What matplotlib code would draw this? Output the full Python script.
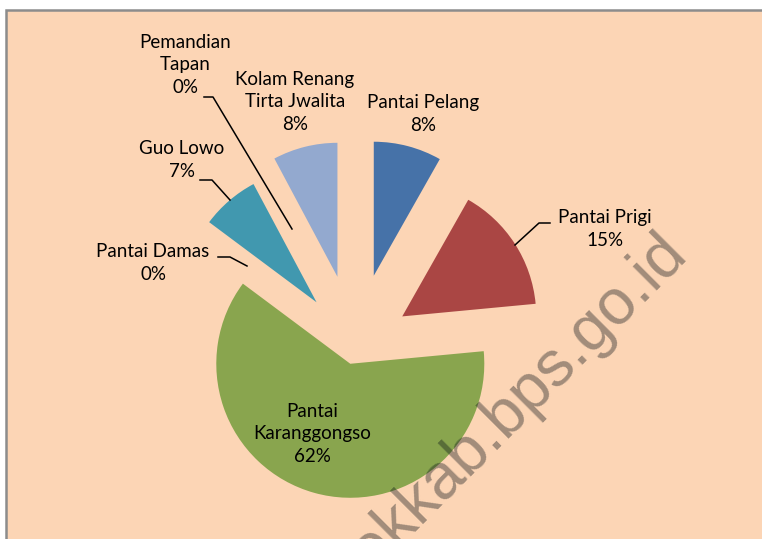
"""
pie chart of visitor share by tourist spot (exploded slices)
"""

import matplotlib
matplotlib.use("Agg")
import matplotlib.pyplot as plt
from matplotlib.patches import Rectangle

# data (percent of visitors)
places = ["Pantai Pelang", "Pantai Prigi", "Pantai\nKaranggongso",
          "Pantai Damas", "Guo Lowo", "Pemandian\nTapan",
          "Kolam Renang\nTirta Jwalita"]
shares = [8.2, 15.3, 61.7, 0.0, 7.0, 0.0, 7.8]
colors = ["#4672A8", "#AA4644", "#89A54E", "#71588F", "#4198AF",
          "#DB843D", "#93A9CF"]
explode = [0.55, 0.42, 0.13, 0.45, 0.44, 0.5, 0.54]

# layout, in pixels of the 762x539 picture
W, H = 762, 539
CX, CY, R = 355, 347, 134
label_xy = [(423, 114), (605, 229), (312, 434), (153, 263),
            (182, 160), (185, 65), (295, 102)]
leaders = {
    1: [(550, 223), (539, 223), (515, 245)],
    3: [(218, 257), (230, 257), (247, 266)],
    4: [(200, 180), (212, 180), (230, 200)],
    5: [(204, 97), (213, 97), (292, 229)],
}


def px(x, y):
    """pixel position -> data coords (pie centre at 0,0, radius 1)"""
    return (x - CX) / R, (CY - y) / R


def main():
    fig = plt.figure(figsize=(W / 100, H / 100), dpi=100)
    fig.patch.set_facecolor("white")
    ax = fig.add_axes([0, 0, 1, 1])

    # chart area with grey frame (only top/left visible)
    bg = Rectangle((5.5 / W, -0.1), 1.2, 1.1 - 9.5 / H,
                   transform=ax.transAxes, facecolor="#FCD5B5",
                   edgecolor="#8C8C8C", linewidth=1.8, clip_on=False,
                   zorder=0)
    ax.add_patch(bg)

    ax.pie(shares, colors=colors, explode=explode, startangle=90,
           counterclock=False, radius=1, center=(0, 0),
           wedgeprops={"linewidth": 0}, frame=True)
    ax.set_xlim(-CX / R, (W - CX) / R)
    ax.set_ylim(-(H - CY) / R, CY / R)
    ax.set_aspect("equal")
    ax.axis("off")

    for i, name in enumerate(places):
        x, y = px(*label_xy[i])
        ax.text(x, y, "%s\n%.0f%%" % (name, shares[i]), ha="center",
                va="center", fontsize=13.5, family="Lato",
                linespacing=1.38, color="black", zorder=5)

    for i, pts in leaders.items():
        xs = [px(*p)[0] for p in pts]
        ys = [px(*p)[1] for p in pts]
        ax.plot(xs, ys, color="black", linewidth=1.1, zorder=4)

    # watermark (dark, see-through, over everything)
    wx, wy = px(689, 257)
    ax.text(wx, wy, "trenggalekkab.bps.go.id", rotation=45,
            rotation_mode="anchor", ha="right", va="baseline",
            fontsize=46, family="Liberation Sans",
            color=(0.0, 0.04, 0.07), alpha=0.36, zorder=6)

    fig.savefig("out.png", dpi=100, facecolor=fig.get_facecolor())


main()
